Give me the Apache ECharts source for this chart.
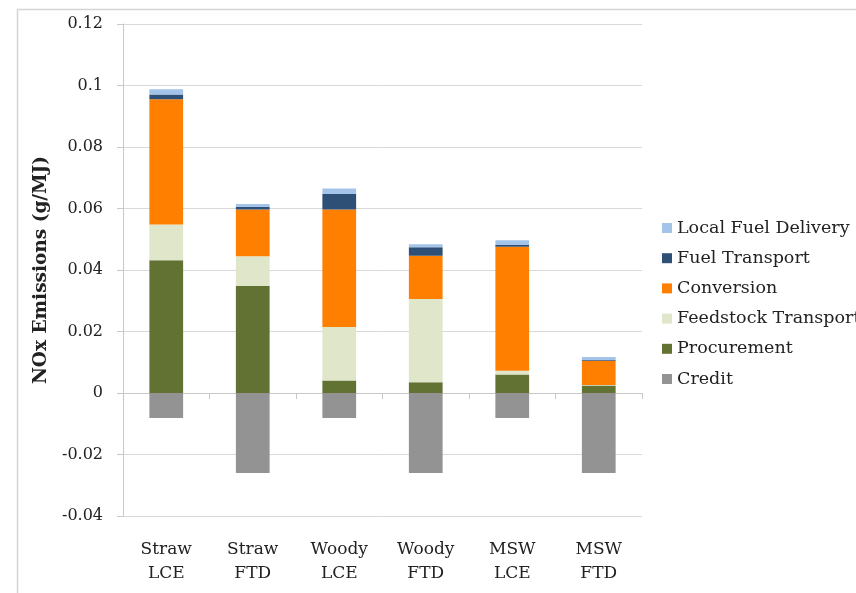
<!DOCTYPE html>
<html>
<head>
<meta charset="utf-8">
<script src="https://cdn.jsdelivr.net/npm/echarts@6/dist/echarts.min.js"></script>
<style>
html,body{margin:0;padding:0;background:#fff;}
#chart{width:856px;height:593px;}
</style>
</head>
<body>
<div id="chart"></div>
<script>
var categories = ['Straw\nLCE', 'Straw\nFTD', 'Woody\nLCE', 'Woody\nFTD', 'MSW\nLCE', 'MSW\nFTD'];
var credit = [-0.0081, -0.026, -0.0081, -0.026, -0.0081, -0.026];
var procurement = [0.0432, 0.0348, 0.0041, 0.0035, 0.0060, 0.0024];
var feedstockTransport = [0.0116, 0.0097, 0.0174, 0.0271, 0.0012, 0.0002];
var conversion = [0.0407, 0.0152, 0.0382, 0.0140, 0.0404, 0.0079];
var fuelTransport = [0.0016, 0.0008, 0.0050, 0.0028, 0.0005, 0.0002];
var localFuelDelivery = [0.0017, 0.0010, 0.0018, 0.0010, 0.0016, 0.0010];
var yTickLabels = {'-0.04':'-0.04','-0.02':'-0.02','0':'0','0.02':'0.02','0.04':'0.04','0.06':'0.06','0.08':'0.08','0.1':'0.1','0.12':'0.12'};

var FONT = 'DejaVu Serif';
var chart = echarts.init(document.getElementById('chart'), null, {renderer:'canvas'});

function bar(name, data, color) {
  return {
    name: name, type: 'bar', stack: 'total', data: data,
    barWidth: '39%', xAxisIndex: 0,
    itemStyle: {color: color},
    emphasis: {disabled: true}
  };
}

var option = {
  animation: false,
  backgroundColor: '#fff',
  textStyle: {fontFamily: FONT},
  graphic: [{
    type: 'rect', left: 15, top: 7, shape: {x: 0, y: 0, width: 900, height: 650},
    style: {fill: 'none', stroke: '#d4d4d4', lineWidth: 1.5}, silent: true, z: -1
  }],
  grid: {left: 123, right: 214, top: 24, bottom: 77, containLabel: false},
  legend: {
    orient: 'vertical', left: 657, top: 214,
    itemWidth: 10, itemHeight: 10, itemGap: 12.2,
    icon: 'rect',
    textStyle: {fontFamily: FONT, fontSize: 17.5, color: '#222', lineHeight: 16},
    data: ['Local Fuel Delivery', 'Fuel Transport', 'Conversion', 'Feedstock Transport', 'Procurement', 'Credit']
  },
  xAxis: [{
    type: 'category', data: categories,
    axisLine: {onZero: true, lineStyle: {color: '#c8c8c8', width: 1}},
    axisTick: {show: true, length: 6, interval: 0, lineStyle: {color: '#c8c8c8'}},
    axisLabel: {show: false},
    splitLine: {show: false}
  }, {
    type: 'category', data: categories, position: 'bottom',
    axisLine: {show: false, onZero: false},
    axisTick: {show: false},
    axisLabel: {show: true, interval: 0, margin: 22, fontFamily: FONT, fontSize: 17, color: '#222', lineHeight: 24}
  }],
  yAxis: {
    type: 'value', min: -0.04, max: 0.12, interval: 0.02,
    name: 'NOx Emissions (g/MJ)', nameLocation: 'middle', nameGap: 72, nameRotate: 90,
    nameTextStyle: {fontFamily: FONT, fontSize: 18.5, fontWeight: 'bold', color: '#222'},
    axisLine: {show: true, lineStyle: {color: '#c8c8c8', width: 1}},
    axisTick: {show: true, length: 6, lineStyle: {color: '#c8c8c8'}},
    axisLabel: {
      margin: 20, fontFamily: FONT, fontSize: 16, color: '#222',
      formatter: function (v) { var k = String(Math.round(v * 100) / 100); return yTickLabels[k] !== undefined ? yTickLabels[k] : k; }
    },
    splitLine: {show: true, lineStyle: {color: '#d9d9d9', width: 1}}
  },
  series: [
    bar('Credit', credit, '#939393'),
    bar('Procurement', procurement, '#627233'),
    bar('Feedstock Transport', feedstockTransport, '#DFE6CA'),
    bar('Conversion', conversion, '#FF7F00'),
    bar('Fuel Transport', fuelTransport, '#2E5076'),
    bar('Local Fuel Delivery', localFuelDelivery, '#A3C3E8')
  ]
};
chart.setOption(option);
</script>
</body>
</html>
